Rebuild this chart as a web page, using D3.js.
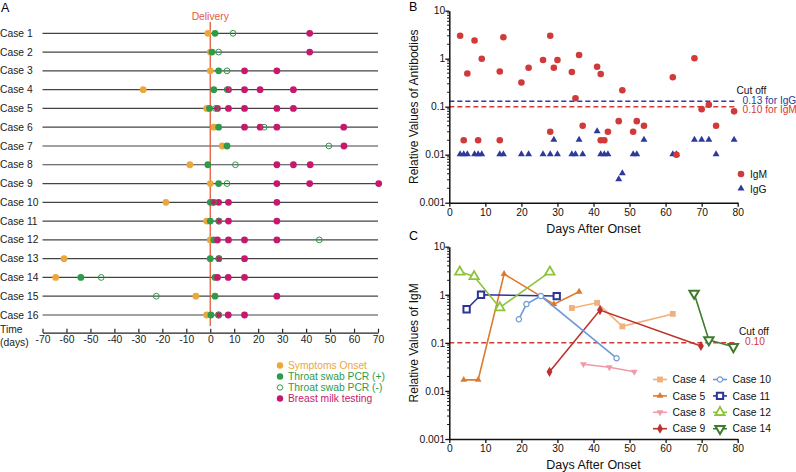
<!DOCTYPE html>
<html>
<head>
<meta charset="utf-8">
<script src="https://cdnjs.cloudflare.com/ajax/libs/d3/7.8.5/d3.min.js"></script>
<style>
  body { margin: 0; background: #fff; }
  svg text { font-family: "Liberation Sans", Arial, sans-serif; }
</style>
</head>
<body>
<div id="chart"></div>
<script>
// ---------- panel A data (days relative to delivery) ----------
const cases = ["Case 1","Case 2","Case 3","Case 4","Case 5","Case 6","Case 7","Case 8",
               "Case 9","Case 10","Case 11","Case 12","Case 13","Case 14","Case 15","Case 16"];
const onsetDays = [-1, 0, 0, -28, -1.5, 1.5, 5, -8.5, 0, -18.5, -1.5, 0, -61, -64.5, -6, -1.5];
const pcrPosDays = [[2],[0.7],[3.5],[1.5],[-0.3],[3.5],[7],[-1],[3.5],[0],[0],[1.5],[0],[-54, 2],[2],[0.3]];
const pcrNegDays = [[9.5],[3.5],[7],[7],[2.2],[22.5],[49.5],[10.5],[7],[1.4],[3.6],[45.5],[3.6],[-45.5],[-22.5],[3.5]];
const milkDays = [[41.5],[41.5],[14.3,27.8],[7.6,14.3,20.8,34.7],[3,7.6,14.3,27.8,34.7],
                  [14.3,20.8,27.8,55.7],[55.8],[27.8,34.7,41.7],[27.8,41.5,70.3],[1.4,3.5,7.6,27.8],
                  [3.6,7.6,27.8],[3,7.6,14.3,27.8],[3.6,14.3],[3,7.5,14.3],[27.8],[3.5,7.5,14.3]];
const timeTicks = d3.range(-70, 71, 10);
const legendA = ["Symptoms Onset","Throat swab PCR (+)","Throat swab PCR (-)","Breast milk testing"];

// ---------- panel B data ----------
const igmDays = [3,5,4,7,8,9,14,14,15,20,22,26,28,28,29,30,34,35,36,37,41,42,42,43,44,47,48,51,52,54,62,63,68,70,72,74,79];
const igmVals = [3,0.49,0.02,2.4,0.02,1.0,0.54,0.02,2.8,0.32,0.65,0.94,3.0,0.03,0.65,0.94,0.53,0.15,1.19,0.04,0.68,0.48,0.02,0.02,0.03,0.05,0.22,0.03,0.05,0.04,0.41,0.01,1.02,0.089,0.11,0.04,0.08];
const iggDays = [3,4,5,7,8,9,14,15,20,22,26,28,30,34,35,37,42,43,44,51,52,62,63,74,29,36,54,68,70,72,79,41,47,48];
const iggVals = [0.01,0.01,0.01,0.01,0.01,0.01,0.01,0.01,0.01,0.01,0.01,0.01,0.01,0.01,0.01,0.01,0.01,0.01,0.01,0.01,0.01,0.01,0.01,0.01,
                 0.02,0.02,0.02,0.02,0.02,0.02,0.02,0.03,0.003,0.004];
const cutIgG = 0.13, cutIgM = 0.10;

// ---------- panel C data ----------
const seriesNames = ["Case 4","Case 5","Case 8","Case 9","Case 10","Case 11","Case 12","Case 14"];
const case4 = [[34,0.53],[41,0.68],[48,0.22],[62,0.40]];
const case5 = [[4,0.017],[8,0.017],[15.2,2.7],[29,0.64],[36,1.16]];
const case8 = [[37.2,0.036],[44.4,0.031],[51.3,0.025]];
const case9 = [[27.8,0.025],[41.8,0.48],[69.8,0.086]];
const case10 = [[19.3,0.31],[21.4,0.64],[25.4,0.94],[46.4,0.048]];
const case11 = [[4.8,0.50],[8.8,1.0],[29.8,0.94]];
const case12 = [[2.9,3.0],[6.9,2.4],[14,0.54],[27.9,3.0]];
const case14 = [[67.9,1.07],[72,0.115],[78.8,0.083]];
const logTicks = [0.001, 0.01, 0.1, 1, 10];
const dayTicks = d3.range(0, 81, 10);

const W = 796, H = 472;
const FS = 10.3;
const svg = d3.select("#chart").append("svg").attr("width", W).attr("height", H);

const orange = "#EBA83A", green = "#2F9A48", magenta = "#C6196E", deliveryCol = "#E35B3E";

// ================= Panel A =================
const xA = d3.scaleLinear().domain([-70, 70]).range([42.5, 378]);
const yA = d3.scalePoint().domain(cases).range([33.3, 315]);
const gA = svg.append("g");

gA.append("text").attr("x", 1).attr("y", 12).attr("font-size", 12.5).text("A");

cases.forEach(c => {
  gA.append("line").attr("x1", xA(-70)).attr("x2", xA(70))
    .attr("y1", yA(c)).attr("y2", yA(c)).attr("stroke", "#444").attr("stroke-width", 1.2);
  gA.append("text").attr("x", 0).attr("y", yA(c)).attr("dy", "0.35em")
    .attr("font-size", FS).attr("fill", "#222").text(c);
});

gA.append("line").attr("x1", xA(0)).attr("x2", xA(0)).attr("y1", 22).attr("y2", 326)
  .attr("stroke", deliveryCol).attr("stroke-width", 1.3);
gA.append("text").attr("x", xA(0)).attr("y", 16).attr("dy", "0.35em").attr("text-anchor", "middle")
  .attr("font-size", FS).attr("fill", deliveryCol).text("Delivery");

const rDot = 3.4;
cases.forEach((c, i) => {
  gA.append("circle").attr("cx", xA(onsetDays[i])).attr("cy", yA(c)).attr("r", rDot).attr("fill", orange);
});
cases.forEach((c, i) => {
  pcrPosDays[i].forEach(d => gA.append("circle").attr("cx", xA(d)).attr("cy", yA(c)).attr("r", rDot).attr("fill", green));
});
cases.forEach((c, i) => {
  milkDays[i].forEach(d => gA.append("circle").attr("cx", xA(d)).attr("cy", yA(c)).attr("r", rDot).attr("fill", magenta));
});
cases.forEach((c, i) => {
  pcrNegDays[i].forEach(d => gA.append("circle").attr("cx", xA(d)).attr("cy", yA(c)).attr("r", 2.9)
    .attr("fill", "none").attr("stroke", green).attr("stroke-width", 1));
});

// time axis
const axA = gA.append("g").attr("transform", "translate(0,332.7)")
  .call(d3.axisBottom(xA).tickValues(timeTicks).tickFormat(d3.format("d")).tickSizeOuter(0));
axA.select(".domain").attr("stroke", "#222").attr("stroke-width", 1.2);
axA.selectAll(".tick line").attr("y2", -4).attr("stroke", "#222").attr("stroke-width", 1.2);
axA.selectAll(".tick text").attr("y", 3).attr("font-size", FS).attr("fill", "#222")
  .attr("font-family", "Liberation Sans, Arial, sans-serif").text(d => d < 0 ? "-" + Math.abs(d) : d);
gA.append("text").attr("x", 0).attr("y", 329).attr("dy", "0.35em").attr("font-size", FS).attr("fill", "#222").text("Time");
gA.append("text").attr("x", 0).attr("y", 342).attr("dy", "0.35em").attr("font-size", FS).attr("fill", "#222").text("(days)");

// legend A
const legCols = [orange, green, green, magenta];
legendA.forEach((t, i) => {
  const y = 365.5 + i * 11;
  const c = gA.append("circle").attr("cx", 280).attr("cy", y).attr("r", i === 2 ? 2.7 : 3.2);
  if (i === 2) c.attr("fill", "none").attr("stroke", green).attr("stroke-width", 1);
  else c.attr("fill", legCols[i]);
  gA.append("text").attr("x", 288).attr("y", y).attr("dy", "0.35em").attr("font-size", FS)
    .attr("fill", legCols[i]).text(t);
});

// ================= helpers for log panels =================
function logAxes(g, x, y) {
  const ax = g.append("g").attr("transform", `translate(${x.range()[0]},0)`)
    .call(d3.axisLeft(y).tickValues(logTicks).tickFormat(d => String(d)).tickSize(4).tickSizeOuter(0));
  ax.select(".domain").attr("stroke", "#111").attr("stroke-width", 1.5);
  ax.selectAll(".tick line").attr("stroke", "#111").attr("stroke-width", 1.3);
  ax.selectAll(".tick text").attr("font-size", FS).attr("fill", "#111").attr("x", -4)
    .attr("font-family", "Liberation Sans, Arial, sans-serif");
  const minors = [];
  [0.001, 0.01, 0.1, 1].forEach(b => d3.range(2, 10).forEach(k => minors.push(b * k)));
  g.selectAll(null).data(minors).enter().append("line")
    .attr("x1", x.range()[0] - 2.2).attr("x2", x.range()[0])
    .attr("y1", d => y(d)).attr("y2", d => y(d)).attr("stroke", "#111").attr("stroke-width", 1);
  const bx = g.append("g").attr("transform", `translate(0,${y.range()[0]})`)
    .call(d3.axisBottom(x).tickValues(dayTicks).tickSize(4).tickSizeOuter(0));
  bx.select(".domain").attr("stroke", "#111").attr("stroke-width", 1.5);
  bx.selectAll(".tick line").attr("stroke", "#111").attr("stroke-width", 1.3);
  bx.selectAll(".tick text").attr("font-size", FS).attr("fill", "#111").attr("y", 5.5)
    .attr("font-family", "Liberation Sans, Arial, sans-serif");
}

// ================= Panel B =================
const xB = d3.scaleLinear().domain([0, 80]).range([449.3, 737.7]);
const yB = d3.scaleLog().domain([0.001, 10]).range([202.7, 10.7]);
const gB = svg.append("g");
gB.append("text").attr("x", 409).attr("y", 11).attr("font-size", 12.5).text("B");
gB.append("line").attr("x1", xB(0)).attr("x2", 735).attr("y1", yB(cutIgG)).attr("y2", yB(cutIgG))
  .attr("stroke", "#2C3A9C").attr("stroke-width", 1.5).attr("stroke-dasharray", "5,3");
gB.append("line").attr("x1", xB(0)).attr("x2", 735).attr("y1", yB(cutIgM)).attr("y2", yB(cutIgM))
  .attr("stroke", "#D23A3A").attr("stroke-width", 1.5).attr("stroke-dasharray", "5,3");
logAxes(gB, xB, yB);

const redDot = "#D13A3B", blueTri = "#2D3A9C";
const triSym = d3.symbol().type(d3.symbolTriangle).size(21);
iggDays.forEach((d, i) => {
  gB.append("path").attr("d", triSym()).attr("fill", blueTri)
    .attr("transform", `translate(${xB(d)},${yB(iggVals[i]) - 0.5})`);
});
igmDays.forEach((d, i) => {
  gB.append("circle").attr("cx", xB(d)).attr("cy", yB(igmVals[i])).attr("r", 3.3).attr("fill", redDot);
});

gB.append("text").attr("x", 736.5).attr("y", 90.5).attr("dy", "0.35em").attr("font-size", 10.2).attr("fill", "#111").text("Cut off");
gB.append("text").attr("x", 742.5).attr("y", 100).attr("dy", "0.35em").attr("font-size", 10.2).attr("fill", "#2C3A9C").text("0.13 for IgG");
gB.append("text").attr("x", 742.5).attr("y", 109.5).attr("dy", "0.35em").attr("font-size", 10.2).attr("fill", "#D23A3A").text("0.10 for IgM");

gB.append("circle").attr("cx", 741).attr("cy", 174).attr("r", 3.3).attr("fill", redDot);
gB.append("text").attr("x", 750).attr("y", 174).attr("dy", "0.35em").attr("font-size", FS).attr("fill", "#111").text("IgM");
gB.append("path").attr("d", triSym()).attr("fill", blueTri).attr("transform", "translate(741,188.5)");
gB.append("text").attr("x", 750).attr("y", 189).attr("dy", "0.35em").attr("font-size", FS).attr("fill", "#111").text("IgG");

gB.append("text").attr("x", (xB(0) + xB(80)) / 2).attr("y", 229).attr("dy", "0.35em").attr("text-anchor", "middle")
  .attr("font-size", 12.5).attr("fill", "#111").text("Days After Onset");
gB.append("text").attr("transform", `translate(414,${(yB(10) + yB(0.001)) / 2}) rotate(-90)`)
  .attr("text-anchor", "middle").attr("dy", "0.35em").attr("font-size", 12).attr("fill", "#111")
  .text("Relative Values of Antibodies");

// ================= Panel C =================
const xC = d3.scaleLinear().domain([0, 80]).range([449.3, 737.7]);
const yC = d3.scaleLog().domain([0.001, 10]).range([439, 246.7]);
const gC = svg.append("g");
gC.append("text").attr("x", 409).attr("y", 240).attr("font-size", 12.5).text("C");
gC.append("line").attr("x1", xC(0)).attr("x2", 735).attr("y1", yC(0.1)).attr("y2", yC(0.1))
  .attr("stroke", "#D23A3A").attr("stroke-width", 1.5).attr("stroke-dasharray", "5,3");
logAxes(gC, xC, yC);

const seriesData = [case4, case5, case8, case9, case10, case11, case12, case14];
const seriesStyle = [
  { col: "#F2B07A", type: d3.symbolSquare, size: 34, open: false, rot: 0 },
  { col: "#DE7A2D", type: d3.symbolTriangle, size: 20, open: false, rot: 0 },
  { col: "#F19AA6", type: d3.symbolTriangle, size: 20, open: false, rot: 180 },
  { col: "#C0302B", type: d3.symbolDiamond, size: 30, open: false, rot: 0 },
  { col: "#6E9AD8", type: d3.symbolCircle, size: 22, open: true, sw: 1.2, rot: 0 },
  { col: "#2B3598", type: d3.symbolSquare, size: 40, open: true, sw: 2, rot: 0 },
  { col: "#8CC43C", type: d3.symbolTriangle, size: 38, open: true, sw: 1.8, rot: 0 },
  { col: "#3E7B2C", type: d3.symbolTriangle, size: 38, open: true, sw: 2, rot: 180 }
];
const lineC = d3.line().x(d => xC(d[0])).y(d => yC(d[1]));

function drawMarker(g, st, x, y) {
  const p = g.append("path").attr("d", d3.symbol().type(st.type).size(st.size)())
    .attr("transform", `translate(${x},${y}) rotate(${st.rot})`);
  if (st.open) p.attr("fill", "#fff").attr("stroke", st.col).attr("stroke-width", st.sw);
  else p.attr("fill", st.col);
}

seriesData.forEach((data, i) => {
  const st = seriesStyle[i];
  gC.append("path").datum(data).attr("d", lineC).attr("fill", "none")
    .attr("stroke", st.col).attr("stroke-width", 1.6);
});
seriesData.forEach((data, i) => {
  const st = seriesStyle[i];
  data.forEach(d => drawMarker(gC, st, xC(d[0]), yC(d[1])));
});

gC.append("text").attr("x", 739).attr("y", 331).attr("dy", "0.35em").attr("font-size", 10.2).attr("fill", "#111").text("Cut off");
gC.append("text").attr("x", 745).attr("y", 341).attr("dy", "0.35em").attr("font-size", 10.2).attr("fill", "#D23A3A").text("0.10");

// legend C
seriesNames.forEach((n, i) => {
  const col = Math.floor(i / 4), row = i % 4;
  const sx = col === 0 ? 660 : 720, y = 379.5 + row * 16.4;
  const st = seriesStyle[i];
  gC.append("line").attr("x1", sx - 7).attr("x2", sx + 7).attr("y1", y).attr("y2", y)
    .attr("stroke", st.col).attr("stroke-width", 1.6);
  drawMarker(gC, st, sx, y);
  gC.append("text").attr("x", sx + 12.5).attr("y", y).attr("dy", "0.35em").attr("font-size", FS)
    .attr("fill", "#111").text(n);
});

gC.append("text").attr("x", (xC(0) + xC(80)) / 2).attr("y", 465).attr("dy", "0.35em").attr("text-anchor", "middle")
  .attr("font-size", 12.5).attr("fill", "#111").text("Days After Onset");
gC.append("text").attr("transform", `translate(414,${(yC(10) + yC(0.001)) / 2}) rotate(-90)`)
  .attr("text-anchor", "middle").attr("dy", "0.35em").attr("font-size", 12).attr("fill", "#111")
  .text("Relative Values of IgM");
</script>
</body>
</html>
